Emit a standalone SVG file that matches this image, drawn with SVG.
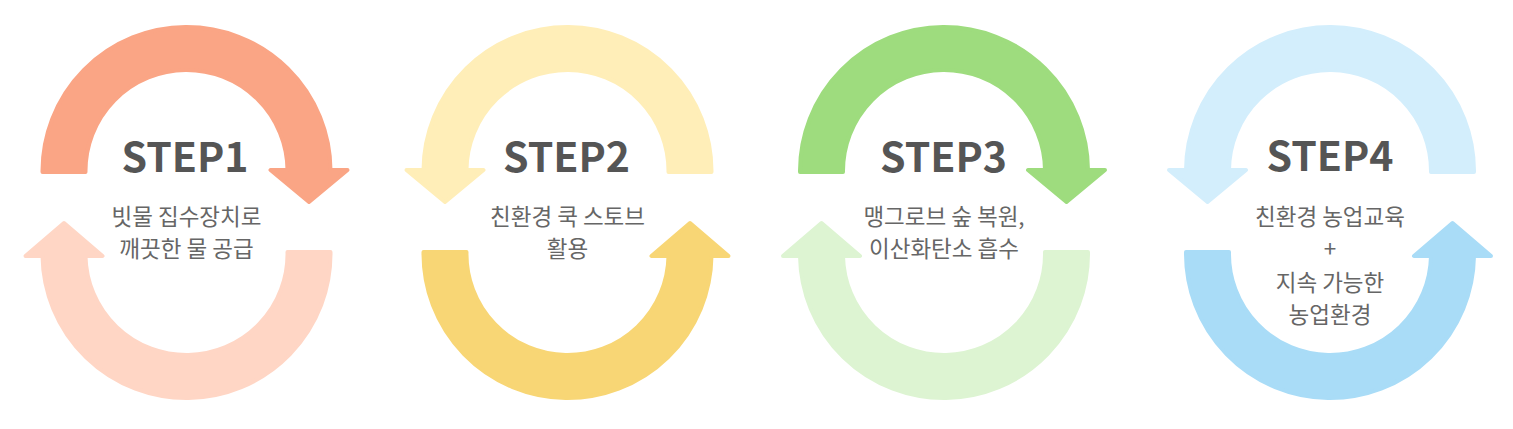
<svg xmlns="http://www.w3.org/2000/svg" width="1513" height="429" viewBox="0 0 1513 429">
  <style>
    .arr { stroke-width: 4; stroke-linejoin: round; }
    .s1a { fill: #FAA585; stroke: #FAA585; }
    .s1b { fill: #FFD6C5; stroke: #FFD6C5; }
    .s2a { fill: #FFEEB8; stroke: #FFEEB8; }
    .s2b { fill: #F8D675; stroke: #F8D675; }
    .s3a { fill: #9EDC7E; stroke: #9EDC7E; }
    .s3b { fill: #DDF4D2; stroke: #DDF4D2; }
    .s4a { fill: #D3EEFC; stroke: #D3EEFC; }
    .s4b { fill: #A9DCF7; stroke: #A9DCF7; }
    .title { font-family: "Noto Sans CJK KR", "Noto Sans", sans-serif; font-weight: 700; font-size: 41px; fill: #555555; text-anchor: middle; }
    .desc { font-family: "Noto Sans CJK KR", "Noto Sans", sans-serif; font-weight: 400; font-size: 22.5px; fill: #666666; text-anchor: middle; }
  </style>
  <defs>
    <path id="topArc" d="M -144,172 A 144,144 0 0 1 144,170 L 161,170 L 122.5,202 L 84,170 L 101,170 A 101,101 0 0 0 -101,172 Z"/>
    <path id="botArc" d="M 144,252 A 144,144 0 0 1 -144,256 L -161,256 L -122.5,223 L -84,256 L -101,256 A 101,101 0 0 0 101,252 Z"/>
  </defs>

  <g id="connectors">
    <use href="#topArc" class="arr s1a" transform="translate(186.5,0)"/>
    <use href="#botArc" class="arr s1b" transform="translate(186.5,0)"/>
    <use href="#topArc" class="arr s2a" transform="translate(567.5,0) scale(-1,1)"/>
    <use href="#botArc" class="arr s2b" transform="translate(567.5,0) scale(-1,1)"/>
    <use href="#topArc" class="arr s3a" transform="translate(944,0)"/>
    <use href="#botArc" class="arr s3b" transform="translate(944,0)"/>
    <use href="#topArc" class="arr s4a" transform="translate(1330,0) scale(-1,1)"/>
    <use href="#botArc" class="arr s4b" transform="translate(1330,0) scale(-1,1)"/>
  </g>

  <g id="step1">
    <text class="title" x="185" y="172">STEP1</text>
    <text class="desc" x="186.5" y="225">빗물 집수장치로</text>
    <text class="desc" x="186.5" y="257">깨끗한 물 공급</text>
  </g>
  <g id="step2">
    <text class="title" x="566.5" y="172">STEP2</text>
    <text class="desc" x="567.5" y="225">친환경 쿡 스토브</text>
    <text class="desc" x="567.5" y="257">활용</text>
  </g>
  <g id="step3">
    <text class="title" x="943.5" y="172">STEP3</text>
    <text class="desc" x="944" y="225">맹그로브 숲 복원,</text>
    <text class="desc" x="944" y="257">이산화탄소 흡수</text>
  </g>
  <g id="step4">
    <text class="title" x="1330" y="171">STEP4</text>
    <text class="desc" x="1330" y="225">친환경 농업교육</text>
    <text class="desc" x="1330" y="257">+</text>
    <text class="desc" x="1330" y="291">지속 가능한</text>
    <text class="desc" x="1330" y="323">농업환경</text>
  </g>
</svg>
